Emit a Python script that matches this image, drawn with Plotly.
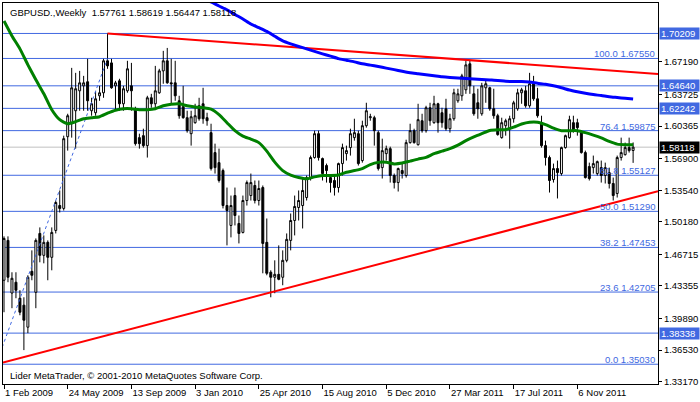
import plotly.graph_objects as go
import pandas as pd

# ---------------- data ----------------
WEEK0 = pd.Timestamp("2009-02-01")
weeks = pd.date_range(WEEK0, periods=159, freq="7D")

opens = [
    1.4396, 1.4820, 1.4260, 1.4375, 1.4205, 1.4131, 1.3897, 1.4491, 1.4268, 1.4894,
    1.4661, 1.4799, 1.4640, 1.4926, 1.5191, 1.5160, 1.5923, 1.6061, 1.6199, 1.6411,
    1.6464, 1.6507, 1.6199, 1.6178, 1.6358, 1.6390, 1.6730, 1.6708, 1.6464, 1.6517,
    1.6273, 1.6411, 1.6464, 1.6220, 1.5913, 1.5934, 1.5828, 1.6337, 1.6273, 1.6390,
    1.6623, 1.6730, 1.6496, 1.6496, 1.6305, 1.6242, 1.6125, 1.5955, 1.6072, 1.6252,
    1.6273, 1.6125, 1.5966, 1.5754, 1.5647, 1.5563, 1.5191, 1.4979, 1.5297, 1.5000,
    1.4905, 1.5244, 1.5297, 1.5404, 1.5244, 1.5382, 1.4799, 1.4481, 1.4428, 1.4459,
    1.4428, 1.4608, 1.4820, 1.5032, 1.5170, 1.5191, 1.5276, 1.5488, 1.5701, 1.5955,
    1.5690, 1.5616, 1.5488, 1.5457, 1.5382, 1.5637, 1.5743, 1.5807, 1.5913, 1.5955,
    1.5669, 1.6040, 1.6125, 1.6125, 1.5966, 1.5594, 1.5743, 1.5796, 1.5510, 1.5435,
    1.5563, 1.5510, 1.5860, 1.5987, 1.5838, 1.6093, 1.5987, 1.6231, 1.6072, 1.6273,
    1.6178, 1.6220, 1.6008, 1.6114, 1.6305, 1.6358, 1.6422, 1.6698, 1.6379, 1.6284,
    1.6167, 1.6443, 1.6443, 1.6220, 1.6146, 1.5913, 1.6040, 1.6008, 1.6114, 1.6220,
    1.6390, 1.6411, 1.6252, 1.6496, 1.6326, 1.6072, 1.5828, 1.5701, 1.5467, 1.5584,
    1.5531, 1.5807, 1.5913, 1.6072, 1.6072, 1.5966, 1.5754, 1.5605, 1.5594, 1.5531,
    1.5594, 1.5510, 1.5541, 1.5425, 1.5319, 1.5701, 1.5732, 1.5807, 1.57761,
]
highs = [
    1.4863, 1.4863, 1.4481, 1.4481, 1.4290, 1.4215, 1.4449, 1.4714, 1.4841, 1.4958,
    1.4873, 1.4820, 1.4958, 1.5244, 1.5351, 1.5934, 1.6167, 1.6655, 1.6602, 1.6623,
    1.6570, 1.6751, 1.6337, 1.6411, 1.6464, 1.6751, 1.70209, 1.6751, 1.6517, 1.6539,
    1.6464, 1.6730, 1.6708, 1.6242, 1.5955, 1.6008, 1.6358, 1.6379, 1.6676, 1.6645,
    1.6836, 1.6867, 1.6751, 1.6730, 1.6358, 1.6464, 1.6199, 1.6199, 1.6273, 1.6337,
    1.6443, 1.6178, 1.6061, 1.5849, 1.5796, 1.5584, 1.5382, 1.5297, 1.5382, 1.5085,
    1.5297, 1.5457, 1.5531, 1.5457, 1.5457, 1.5404, 1.5053, 1.4502, 1.4608, 1.4767,
    1.4714, 1.4894, 1.5106, 1.5297, 1.5351, 1.5488, 1.5510, 1.5722, 1.5987, 1.5987,
    1.5701, 1.5637, 1.5510, 1.5510, 1.5647, 1.5849, 1.5828, 1.6008, 1.6114, 1.5987,
    1.6093, 1.6284, 1.6167, 1.6146, 1.5987, 1.5902, 1.5828, 1.5817, 1.5531, 1.5594,
    1.5637, 1.5891, 1.6061, 1.6008, 1.6273, 1.6167, 1.6252, 1.6284, 1.6358, 1.6284,
    1.6231, 1.6326, 1.6167, 1.6433, 1.6433, 1.6592, 1.6730, 1.6730, 1.6464, 1.6433,
    1.6496, 1.6517, 1.6454, 1.6433, 1.6167, 1.6125, 1.6114, 1.6146, 1.6305, 1.6433,
    1.6443, 1.6464, 1.6602, 1.6570, 1.6443, 1.6146, 1.5881, 1.5722, 1.5637, 1.5669,
    1.5817, 1.5945, 1.6146, 1.6146, 1.6114, 1.5987, 1.5775, 1.5647, 1.5722, 1.5669,
    1.5669, 1.5647, 1.5594, 1.5488, 1.5722, 1.5913, 1.5860, 1.5913, 1.58619,
]
lows = [
    1.4056, 1.4375, 1.4099, 1.4205, 1.4024, 1.3653, 1.3834, 1.4396, 1.4099, 1.4587,
    1.4576, 1.4396, 1.4502, 1.4894, 1.5117, 1.5138, 1.5775, 1.5913, 1.5796, 1.6199,
    1.6199, 1.6199, 1.6146, 1.6146, 1.6305, 1.6337, 1.6645, 1.6433, 1.6199, 1.6199,
    1.6199, 1.6390, 1.6199, 1.5828, 1.5796, 1.5807, 1.5701, 1.6231, 1.6231, 1.6379,
    1.6486, 1.6486, 1.6273, 1.6305, 1.6114, 1.6114, 1.5966, 1.5828, 1.6061, 1.6093,
    1.6061, 1.6040, 1.5563, 1.5531, 1.5435, 1.5160, 1.4767, 1.4852, 1.4979, 1.4788,
    1.4894, 1.5191, 1.5244, 1.5213, 1.5191, 1.4470, 1.4449, 1.4215, 1.4258, 1.4396,
    1.4343, 1.4587, 1.4714, 1.4873, 1.5032, 1.4947, 1.5244, 1.5457, 1.5690, 1.5669,
    1.5457, 1.5435, 1.5329, 1.5297, 1.5329, 1.5510, 1.5669, 1.5722, 1.5881, 1.5616,
    1.5647, 1.6019, 1.6093, 1.5828, 1.5563, 1.5478, 1.5669, 1.5435, 1.5372, 1.5340,
    1.5478, 1.5488, 1.5849, 1.5849, 1.5828, 1.5966, 1.5966, 1.6040, 1.6061, 1.5966,
    1.6019, 1.5987, 1.5966, 1.6093, 1.6284, 1.6305, 1.6379, 1.6379, 1.6146, 1.6114,
    1.6146, 1.6284, 1.6199, 1.6114, 1.5934, 1.5902, 1.5934, 1.5796, 1.6072, 1.6199,
    1.6273, 1.6231, 1.6231, 1.6305, 1.6125, 1.5807, 1.5616, 1.5329, 1.5435, 1.5266,
    1.5510, 1.5796, 1.5902, 1.5966, 1.5934, 1.5743, 1.5478, 1.5457, 1.5531, 1.5510,
    1.5435, 1.5425, 1.5372, 1.5244, 1.5276, 1.5669, 1.5722, 1.5754, 1.56447,
]
closes = [
    1.4841, 1.4428, 1.4417, 1.4290, 1.4056, 1.3971, 1.4428, 1.4449, 1.4820, 1.4661,
    1.4799, 1.4640, 1.4905, 1.5223, 1.5160, 1.5902, 1.6146, 1.6443, 1.6433, 1.6496,
    1.6496, 1.6305, 1.6273, 1.6326, 1.6390, 1.6730, 1.6676, 1.6443, 1.6496, 1.6273,
    1.6433, 1.6645, 1.6411, 1.5849, 1.5849, 1.5828, 1.6337, 1.6273, 1.6411, 1.6623,
    1.6730, 1.6496, 1.6486, 1.6358, 1.6146, 1.6125, 1.5987, 1.6135, 1.6146, 1.6114,
    1.6114, 1.6093, 1.5584, 1.5594, 1.5457, 1.5191, 1.5138, 1.5191, 1.5085, 1.4894,
    1.5244, 1.5435, 1.5435, 1.5244, 1.5372, 1.4788, 1.4470, 1.4428, 1.4459, 1.4406,
    1.4608, 1.4831, 1.5032, 1.5181, 1.5244, 1.5351, 1.5488, 1.5701, 1.5955, 1.5701,
    1.5531, 1.5563, 1.5435, 1.5382, 1.5637, 1.5807, 1.5775, 1.5955, 1.5966, 1.5637,
    1.6040, 1.6199, 1.6135, 1.5987, 1.5584, 1.5775, 1.5796, 1.5510, 1.5435, 1.5584,
    1.5531, 1.5860, 1.5987, 1.5860, 1.6104, 1.5987, 1.6231, 1.6093, 1.6273, 1.6072,
    1.6072, 1.6008, 1.6114, 1.6390, 1.6379, 1.6570, 1.6687, 1.6464, 1.6167, 1.6220,
    1.6464, 1.6486, 1.6220, 1.6146, 1.5945, 1.6072, 1.6093, 1.6114, 1.6284, 1.6390,
    1.6422, 1.6252, 1.6486, 1.6326, 1.6146, 1.5828, 1.5701, 1.5457, 1.5584, 1.5541,
    1.5807, 1.5934, 1.6104, 1.5987, 1.6019, 1.5754, 1.5488, 1.5478, 1.5637, 1.5658,
    1.5510, 1.5594, 1.5425, 1.5297, 1.5701, 1.5754, 1.5807, 1.5775, 1.58118,
]

# moving averages read every second week
green_ma = [
    1.71539, 1.69948, 1.68569, 1.66872, 1.65281, 1.63795, 1.62098, 1.61037, 1.60613, 1.60825,
    1.61143, 1.61250, 1.61356, 1.61727, 1.62045, 1.62204, 1.62204, 1.62098, 1.62098, 1.62204,
    1.62522, 1.62682, 1.62735, 1.62522, 1.62395, 1.62310, 1.62151, 1.61568, 1.60719, 1.59870,
    1.59287, 1.58969, 1.58598, 1.57696, 1.56529, 1.55627, 1.55150, 1.54885, 1.54747, 1.54959,
    1.55097, 1.55097, 1.55150, 1.55447, 1.55627, 1.55839, 1.56264, 1.56497, 1.56508, 1.56338,
    1.56423, 1.56635, 1.56847, 1.57028, 1.57431, 1.57696, 1.57961, 1.58332, 1.58810, 1.59202,
    1.59552, 1.59892, 1.59977, 1.59977, 1.60242, 1.60581, 1.60772, 1.60772, 1.60507, 1.60136,
    1.59870, 1.59870, 1.59870, 1.59658, 1.59393, 1.59096, 1.58725, 1.58438, 1.58385, 1.58385,
]
blue_ma = [
    1.74828, 1.74403, 1.73926, 1.73555, 1.73130, 1.72727, 1.72229, 1.71751, 1.71221, 1.70829,
    1.70425, 1.69916, 1.69418, 1.69099, 1.68824, 1.68569, 1.68304, 1.68039, 1.67795, 1.67529,
    1.67360, 1.67190, 1.66978, 1.66840, 1.66691, 1.66522, 1.66363, 1.66182, 1.66023, 1.65917,
    1.65811, 1.65705, 1.65599, 1.65525, 1.65472, 1.65418, 1.65365, 1.65312, 1.65259, 1.65206,
    1.65121, 1.65100, 1.65100, 1.65037, 1.64909, 1.64803, 1.64644, 1.64432, 1.64188, 1.64008,
    1.63848, 1.63711, 1.63604, 1.63477, 1.63392, 1.63307, 1.63233,
]
green_dates = weeks[0::2]
blue_dates = weeks[46::2]

fib_pcts = ["100.0", "76.4", "61.8", "50.0", "38.2", "23.6", "0.0"]
fib_prices = [1.67550, 1.59875, 1.55127, 1.51290, 1.47453, 1.42705, 1.35030]
hline_prices = [1.70209, 1.64640, 1.62242, 1.38338]
bid_price = 1.58118

upper_trend_dates = ["2009-08-02", "2011-04-24"]
upper_trend_prices = [1.70209, 1.6740]
lower_trend_dates = ["2009-01-18", "2010-05-16"]
lower_trend_prices = [1.35030, 1.4267]
fib_line_dates = ["2009-01-18", "2009-08-02"]
fib_line_prices = [1.35030, 1.67550]

ytick_vals = [1.67190, 1.63725, 1.60365, 1.56900, 1.53540, 1.50180,
              1.46715, 1.43355, 1.39890, 1.36530, 1.33170]
xtick_dates = ["2009-02-01", "2009-05-24", "2009-09-13", "2010-01-03", "2010-04-25",
               "2010-08-15", "2010-12-05", "2011-03-27", "2011-07-17", "2011-11-06"]
xtick_text = ["1 Feb 2009", "24 May 2009", "13 Sep 2009", "3 Jan 2010", "25 Apr 2010",
              "15 Aug 2010", "5 Dec 2010", "27 Mar 2011", "17 Jul 2011", "6 Nov 2011"]

title_text = "GBPUSD.,Weekly  1.57761 1.58619 1.56447 1.58118"
copyright_text = "Lider MetaTrader, \u00a9 2001-2010 MetaQuotes Software Corp."

# ---------------- layout geometry ----------------
W, H = 700, 402
ML, MR, MT, MB = 2, 40, 2, 18
plot_w = W - ML - MR
DAYS_PER_PX = 7 / 4
x_start = WEEK0 - pd.Timedelta(days=1 * DAYS_PER_PX)
x_end = x_start + pd.Timedelta(days=plot_w * DAYS_PER_PX)
y_lo, y_hi = 1.32927, 1.73449

FONT = "Liberation Sans, Arial, sans-serif"
ROYAL = "#4169E1"


def extend(dates, prices, t_from, t_to):
    t0, t1 = pd.Timestamp(dates[0]), pd.Timestamp(dates[1])
    p0, p1 = prices
    slope = (p1 - p0) / (t1 - t0).total_seconds()
    pa = p0 + slope * (t_from - t0).total_seconds()
    pb = p0 + slope * (t_to - t0).total_seconds()
    return [t_from, t_to], [pa, pb]


fig = go.Figure()

# candles
fig.add_trace(go.Candlestick(
    x=weeks, open=opens, high=highs, low=lows, close=closes,
    increasing=dict(line=dict(color="black", width=1), fillcolor="white"),
    decreasing=dict(line=dict(color="black", width=1), fillcolor="black"),
    whiskerwidth=0, showlegend=False, hoverinfo="skip",
))

# trend lines
ux, uy = extend(upper_trend_dates, upper_trend_prices, pd.Timestamp(upper_trend_dates[0]), x_end)
fig.add_trace(go.Scatter(x=ux, y=uy, mode="lines", line=dict(color="#FF0000", width=2),
                         showlegend=False, hoverinfo="skip"))
lx, ly = extend(lower_trend_dates, lower_trend_prices, x_start, x_end)
fig.add_trace(go.Scatter(x=lx, y=ly, mode="lines", line=dict(color="#FF0000", width=2),
                         showlegend=False, hoverinfo="skip"))
fig.add_trace(go.Scatter(x=pd.to_datetime(fib_line_dates), y=fib_line_prices, mode="lines",
                         line=dict(color=ROYAL, width=1, dash="dot"),
                         showlegend=False, hoverinfo="skip"))

# moving averages
fig.add_trace(go.Scatter(x=green_dates, y=green_ma, mode="lines",
                         line=dict(color="#008000", width=3, shape="spline", smoothing=0.6),
                         showlegend=False, hoverinfo="skip"))
fig.add_trace(go.Scatter(x=blue_dates, y=blue_ma, mode="lines",
                         line=dict(color="#0000FF", width=3, shape="spline", smoothing=0.6),
                         showlegend=False, hoverinfo="skip"))

shapes = []
for p in fib_prices + hline_prices:
    shapes.append(dict(type="line", xref="paper", x0=0, x1=1, yref="y", y0=p, y1=p,
                       line=dict(color=ROYAL, width=1), layer="below"))
shapes.append(dict(type="line", xref="paper", x0=0, x1=1, yref="y", y0=bid_price, y1=bid_price,
                   line=dict(color="#C0C0C0", width=1), layer="below"))

annotations = []
for pct, p in zip(fib_pcts, fib_prices):
    annotations.append(dict(xref="paper", x=1, xanchor="right", xshift=-1,
                            yref="y", y=p, yanchor="bottom", yshift=-3,
                            text=f"{pct} {p:.5f}", showarrow=False,
                            font=dict(family=FONT, size=9.5, color=ROYAL)))
for p in hline_prices:
    annotations.append(dict(xref="paper", x=1, xanchor="left", xshift=1,
                            yref="y", y=p, yanchor="middle",
                            text=f"{p:.5f}", showarrow=False, bgcolor=ROYAL,
                            width=37, height=9, borderpad=1, align="left",
                            font=dict(family=FONT, size=9.5, color="white")))
annotations.append(dict(xref="paper", x=1, xanchor="left", xshift=1,
                        yref="y", y=bid_price, yanchor="middle",
                        text=f"{bid_price:.5f}", showarrow=False, bgcolor="black",
                        width=37, height=9, borderpad=1, align="left",
                        font=dict(family=FONT, size=9.5, color="white")))
annotations.append(dict(xref="paper", x=0, xanchor="left", xshift=5,
                        yref="paper", y=1, yanchor="top", yshift=-2,
                        text=title_text, showarrow=False,
                        font=dict(family=FONT, size=9.5, color="black")))
annotations.append(dict(xref="paper", x=0, xanchor="left", xshift=5,
                        yref="paper", y=0, yanchor="bottom", yshift=1,
                        text=copyright_text, showarrow=False,
                        font=dict(family=FONT, size=9.5, color="black")))

fig.update_layout(
    width=W, height=H,
    margin=dict(l=ML, r=MR, t=MT, b=MB, pad=0),
    paper_bgcolor="white", plot_bgcolor="white",
    showlegend=False,
    shapes=shapes, annotations=annotations,
    font=dict(family=FONT, size=9.5, color="black"),
    xaxis=dict(
        type="date", range=[x_start, x_end], rangeslider=dict(visible=False),
        showgrid=False, zeroline=False,
        showline=True, linecolor="black", linewidth=1, mirror=True,
        tickmode="array", tickvals=pd.to_datetime(xtick_dates), ticktext=xtick_text,
        ticks="outside", ticklen=4, tickcolor="black", tickwidth=1,
        ticklabelposition="outside right",
        tickfont=dict(family=FONT, size=9.5, color="black"),
    ),
    yaxis=dict(
        range=[y_lo, y_hi], side="right",
        showgrid=False, zeroline=False,
        showline=True, linecolor="black", linewidth=1, mirror=True,
        tickmode="array", tickvals=ytick_vals,
        ticktext=[f"{v:.5f}" for v in ytick_vals],
        ticks="outside", ticklen=3, tickcolor="black", tickwidth=1,
        tickfont=dict(family=FONT, size=9.5, color="black"),
    ),
)

fig.write_html("out.html",
               config={"displayModeBar": False, "staticPlot": True},
               post_script="document.body.style.margin='0';document.body.style.overflow='hidden';")
